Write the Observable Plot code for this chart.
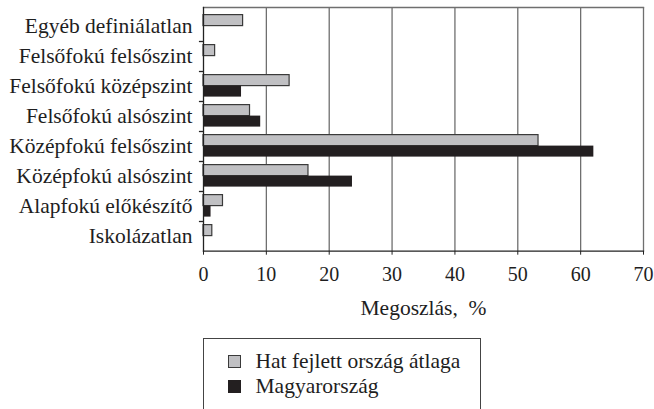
<!DOCTYPE html>
<html><head><meta charset="utf-8">
<script src="https://cdn.jsdelivr.net/npm/d3@7"></script>
<script src="https://cdn.jsdelivr.net/npm/@observablehq/plot@0.6"></script>
<style>
html,body{margin:0;padding:0;background:#fff;}
body{width:654px;height:409px;overflow:hidden;font-family:"Liberation Serif",serif;color:#1e1e1e;}
#chart svg text{fill:#1e1e1e;}
#legend{position:relative;margin-top:8px;margin-left:202.5px;width:278px;height:100px;border:1.3px solid #444;border-bottom:none;box-sizing:border-box;font-size:21.5px;}
.item{position:absolute;left:24px;display:flex;align-items:center;line-height:24px;}
.sw{width:13px;height:13px;box-sizing:border-box;margin-right:15px;}
</style></head>
<body>
<div id="chart"></div>
<div id="legend"></div>
<script>
const categories = ["Egyéb definiálatlan","Felsőfokú felsőszint","Felsőfokú középszint","Felsőfokú alsószint","Középfokú felsőszint","Középfokú alsószint","Alapfokú előkészítő","Iskolázatlan"];
const series = ["Hat fejlett ország átlaga","Magyarország"];
const avgValues = [6.3, 1.85, 13.7, 7.4, 53.3, 16.7, 3.1, 1.4];
const huValues  = [null, null, 6.05, 9.1, 62.1, 23.7, 1.2, null];
const xTicks = [0,10,20,30,40,50,60,70];
const axisLabel = "Megoszlás,\u00a0 %";
const colors = ["#c0c0c3","#231f20"];

const avgData = categories.map((c,i)=>({cat:c, v:avgValues[i]}));
const huData = categories.map((c,i)=>({cat:c, v:huValues[i]})).filter(d=>d.v!=null);
const boundaries = categories.slice(1);

const chart = Plot.plot({
  width: 654, height: 330,
  marginLeft: 203, marginRight: 11, marginTop: 7, marginBottom: 79.3,
  style: {fontFamily: '"Liberation Serif", serif', fontSize: "21px", color: "#1e1e1e", background: "#fff"},
  x: {domain: [0,70]},
  y: {domain: categories, range: [10.7, 250.7], padding: 0},
  marks: [
    Plot.gridX(xTicks.slice(1), {stroke: "#6f6f6f", strokeOpacity: 1, strokeWidth: 1.3}),
    Plot.frame({anchor: "top", stroke: "#6f6f6f", strokeWidth: 1.3}),
    Plot.barX(avgData, {y: "cat", x: "v", fill: colors[0], stroke: "#3a3a3a", strokeWidth: 1.2, insetTop: 3.6, insetBottom: 15.4}),
    Plot.barX(huData, {y: "cat", x: "v", fill: colors[1], insetTop: 14.6, insetBottom: 4.4}),
    Plot.frame({anchor: "bottom", stroke: "#222", strokeWidth: 1.3}),
    Plot.frame({anchor: "left", stroke: "#222", strokeWidth: 1.3}),
    Plot.ruleY(boundaries, {y: d=>d, x1: -0.65, x2: 0, dy: -15, stroke: "#222", strokeWidth: 1.3}),
    Plot.axisX({ticks: xTicks, tickSize: 4, tickPadding: 12, tickFormat: d=>String(d), fontSize: 20, stroke: "#222", label: null}),
    Plot.axisX({ticks: [], tickSize: 0, label: axisLabel, labelAnchor: "center", labelArrow: "none", labelOffset: 64, fontSize: 21.5}),
    Plot.axisY({tickSize: 0, tickPadding: 11, label: null, fontSize: 21.5})
  ]
});
document.getElementById("chart").appendChild(chart);

const legend = document.getElementById("legend");
series.forEach((s,i)=>{
  const it = document.createElement("div");
  it.className = "item";
  it.style.top = (10 + i*25) + "px";
  const sw = document.createElement("span");
  sw.className = "sw";
  sw.style.background = colors[i];
  sw.style.border = i===0 ? "1px solid #3a3a3a" : "none";
  const t = document.createElement("span");
  t.textContent = s;
  it.appendChild(sw); it.appendChild(t);
  legend.appendChild(it);
});
</script>
</body></html>
